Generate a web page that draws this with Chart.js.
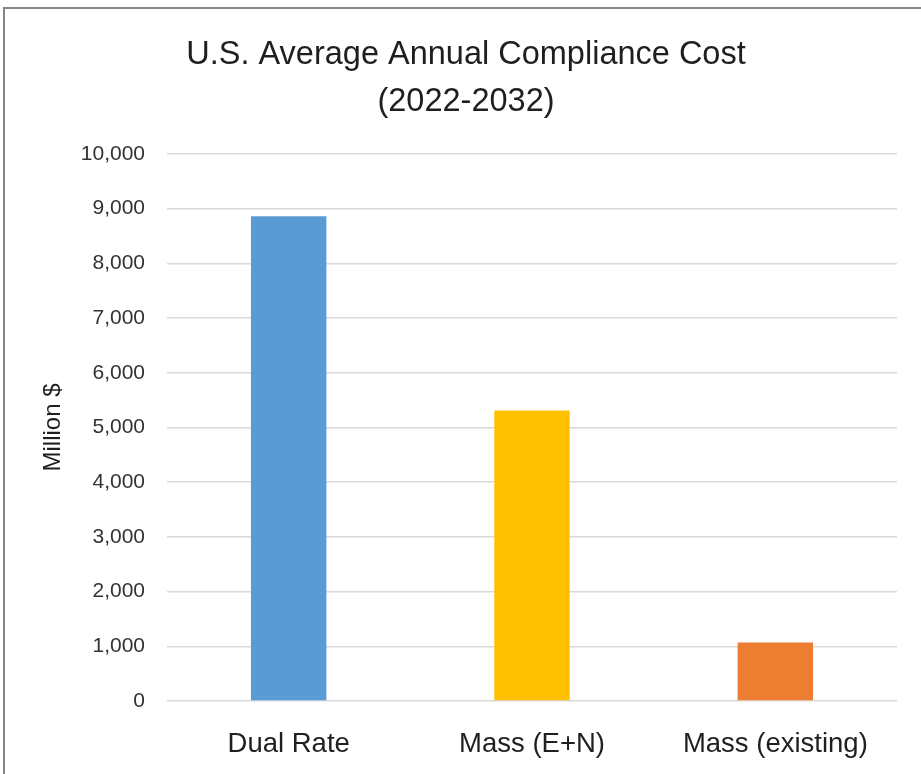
<!DOCTYPE html>
<html>
<head>
<meta charset="utf-8">
<script src="https://cdn.jsdelivr.net/npm/chart.js@4.4.1/dist/chart.umd.min.js"></script>
<style>
  html, body { margin: 0; padding: 0; background: #fff; }
  #wrap { position: absolute; left: 0; top: 0; width: 921px; height: 774px; }
</style>
</head>
<body>
<div id="wrap"><canvas id="costChart" width="921" height="774"></canvas></div>
<script>
  // chart data
  const categories = ['Dual Rate', 'Mass (E+N)', 'Mass (existing)'];
  const costValues = [8860, 5310, 1070];
  const barColors = ['#5B9BD5', '#FFC000', '#ED7D31'];
  const titleLines = ['U.S. Average Annual Compliance Cost', '(2022-2032)'];
  const yAxisLabel = 'Million $';
  const yMax = 10000;
  const yStep = 1000;

  const FONT = "'Liberation Sans', Arial, sans-serif";

  // gray frame on the top and left edge, like the excel export
  const framePlugin = {
    id: 'frame',
    beforeDraw(chart) {
      const ctx = chart.ctx;
      ctx.save();
      ctx.fillStyle = '#fff';
      ctx.fillRect(0, 0, chart.width, chart.height);
      ctx.fillStyle = '#868686';
      ctx.fillRect(3, 7, chart.width - 3, 2);
      ctx.fillRect(3, 7, 2, chart.height - 7);
      ctx.restore();
    }
  };

  // the excel title sits a bit right of the plot centre, so draw it here
  const titlePlugin = {
    id: 'chartTitle',
    afterDraw(chart) {
      const ctx = chart.ctx;
      ctx.save();
      ctx.fillStyle = '#1f1f1f';
      ctx.font = '32.5px ' + FONT;
      ctx.textAlign = 'center';
      ctx.textBaseline = 'alphabetic';
      titleLines.forEach((line, i) => {
        ctx.fillText(line, 466, 64 + i * 47);
      });
      ctx.restore();
    }
  };

  new Chart(document.getElementById('costChart').getContext('2d'), {
    type: 'bar',
    data: {
      labels: categories,
      datasets: [{
        label: yAxisLabel,
        data: costValues,
        backgroundColor: barColors,
        borderWidth: 0,
        categoryPercentage: 1,
        barPercentage: 0.31
      }]
    },
    options: {
      responsive: false,
      animation: false,
      layout: { padding: { left: 0, right: 24, top: 154, bottom: 0 } },
      plugins: {
        legend: { display: false },
        tooltip: { enabled: false },
        title: { display: false }
      },
      scales: {
        x: {
          grid: { display: false },
          border: { display: false },
          ticks: {
            color: '#1f1f1f',
            padding: 19,
            font: { family: FONT, size: 27.5 }
          },
          afterFit(scale) { scale.height = 73; }
        },
        y: {
          min: 0,
          max: yMax,
          grid: { color: '#d9d9d9', lineWidth: 1.5, drawTicks: false },
          border: { display: false },
          ticks: {
            stepSize: yStep,
            color: '#333',
            padding: 22,
            font: { family: FONT, size: 21 },
            callback: v => v.toLocaleString('en-US')
          },
          title: {
            display: true,
            text: yAxisLabel,
            color: '#1f1f1f',
            font: { family: FONT, size: 24 },
            padding: { top: 39, bottom: 0 }
          },
          afterFit(scale) { scale.width = 167; }
        }
      }
    },
    plugins: [framePlugin, titlePlugin]
  });
</script>
</body>
</html>
